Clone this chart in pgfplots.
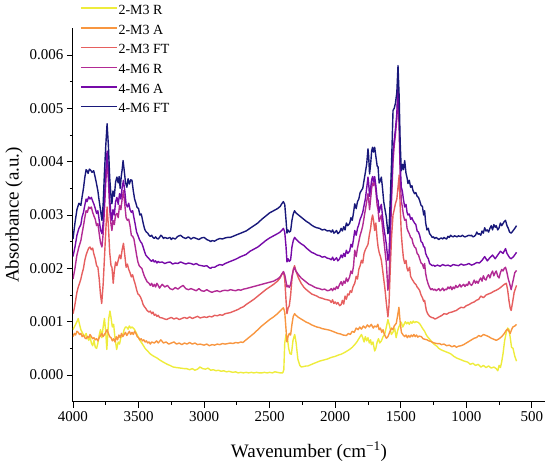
\documentclass[border=0pt]{standalone}
\usepackage{fontspec}
\setmainfont{Liberation Serif}
\usepackage{pgfplots}
\pgfplotsset{compat=1.18}
\definecolor{cR2}{RGB}{238,236,60}
\definecolor{cA2}{RGB}{248,150,64}
\definecolor{cF2}{RGB}{230,95,95}
\definecolor{cR4}{RGB}{178,42,148}
\definecolor{cA4}{RGB}{118,10,168}
\definecolor{cF4}{RGB}{24,24,122}
\pgfplotsset{sp/.style={line width=1.4pt, line join=round}}
\begin{document}
\begin{tikzpicture}
\useasboundingbox (-73pt,-66.3pt) rectangle (477pt,401.7pt);
\begin{axis}[
  at={(0pt,0pt)}, anchor=south west,
  scale only axis, width=472pt, height=373.4pt,
  x dir=reverse,
  xmin=400, xmax=4000, ymin=-0.0005, ymax=0.0065,
  axis x line*=bottom, axis y line*=left,
  axis line style={line width=1pt, black},
  tick align=outside,
  major tick length=6pt, minor tick length=3pt,
  every tick/.style={black, line width=0.9pt},
  xtick={500,1000,...,4000}, minor x tick num=1,
  ytick={0,0.001,0.002,0.003,0.004,0.005,0.006}, minor y tick num=1,
  scaled y ticks=false,
  /pgf/number format/assume math mode=true,
  xticklabel style={/pgf/number format/1000 sep={}},
  yticklabel style={/pgf/number format/.cd, fixed, fixed zerofill, precision=3},
  ticklabel style={font=\fontsize{15}{18}\selectfont},
  xlabel={Wavenumber (cm\textsuperscript{−1})},
  ylabel={Absorbance (a.u.)},
  label style={font=\fontsize{19}{23}\selectfont},
  xlabel style={at={(axis description cs:0.5,-0.134)}, anchor=center},
  ylabel style={at={(axis description cs:-0.125,0.5)}, anchor=center},
  legend style={at={(axis description cs:0.0148,1.066)}, anchor=north west,
    draw=none, fill=none, inner sep=0pt, row sep=5.2pt,
    font=\fontsize{14}{16}\selectfont,
    nodes={inner sep=1pt, text height=9.5pt, text depth=3pt}},
  legend cell align=left,
  legend image code/.code={\draw[#1, line width=1.4pt] (0pt,0.3em) -- (36pt,0.3em);},
]
% 2-M3 R
\addplot[cR2, sp] table {
x y
4000 0.00085
3990 0.00090
3980 0.00095
3970 0.00100
3960 0.00106
3950 0.00095
3940 0.00085
3930 0.00080
3920 0.00075
3910 0.00072
3900 0.00078
3890 0.00070
3880 0.00065
3870 0.00072
3860 0.00060
3850 0.00055
3840 0.00065
3830 0.00052
3820 0.00050
3810 0.00060
3800 0.00075
3790 0.00085
3780 0.00070
3770 0.00090
3760 0.00106
3750 0.00080
3742 0.00048
3735 0.00075
3728 0.00105
3718 0.00120
3710 0.00108
3700 0.00090
3690 0.00095
3680 0.00070
3667 0.00048
3655 0.00062
3645 0.00058
3635 0.00070
3620 0.00075
3610 0.00085
3600 0.00090
3591 0.00090
3580 0.00086
3570 0.00092
3560 0.00088
3550 0.00090
3540 0.00088
3530 0.00085
3520 0.00080
3510 0.00075
3500 0.00070
3489 0.00065
3470 0.00058
3450 0.00050
3430 0.00045
3413 0.00040
3390 0.00036
3360 0.00032
3337 0.00028
3310 0.00024
3280 0.00020
3260 0.00018
3236 0.00015
3210 0.00014
3180 0.00013
3150 0.00012
3134 0.00012
3110 0.00010
3090 0.00012
3070 0.00009
3050 0.00011
3032 0.00015
3010 0.00012
2990 0.00011
2970 0.00013
2950 0.00009
2930 0.00010
2910 0.00008
2890 0.00009
2870 0.00007
2850 0.00008
2830 0.00006
2810 0.00007
2781 0.00005
2760 0.00006
2740 0.00004
2720 0.00005
2700 0.00004
2680 0.00005
2660 0.00004
2640 0.00005
2620 0.00004
2600 0.00005
2580 0.00004
2560 0.00004
2540 0.00005
2520 0.00004
2500 0.00005
2480 0.00004
2460 0.00006
2440 0.00005
2420 0.00004
2400 0.00004
2392 0.00010
2385 0.00060
2375 0.00076
2365 0.00070
2355 0.00050
2345 0.00040
2334 0.00039
2322 0.00065
2309 0.00076
2298 0.00060
2285 0.00030
2270 0.00018
2258 0.00015
2240 0.00016
2220 0.00017
2208 0.00017
2180 0.00020
2150 0.00023
2120 0.00026
2090 0.00028
2060 0.00030
2030 0.00033
2000 0.00035
1970 0.00038
1954 0.00039
1930 0.00042
1910 0.00045
1890 0.00048
1870 0.00052
1851 0.00057
1835 0.00062
1820 0.00068
1810 0.00072
1800 0.00076
1790 0.00070
1780 0.00062
1770 0.00072
1760 0.00064
1750 0.00070
1740 0.00060
1730 0.00066
1724 0.00057
1712 0.00062
1699 0.00045
1690 0.00050
1680 0.00062
1670 0.00068
1660 0.00060
1648 0.00064
1635 0.00072
1623 0.00076
1610 0.00090
1598 0.00104
1585 0.00092
1572 0.00076
1560 0.00080
1547 0.00088
1535 0.00070
1525 0.00082
1515 0.00090
1505 0.00095
1496 0.00099
1485 0.00090
1475 0.00095
1465 0.00100
1455 0.00096
1445 0.00099
1435 0.00095
1425 0.00100
1415 0.00097
1405 0.00101
1395 0.00098
1385 0.00100
1369 0.00099
1355 0.00096
1340 0.00090
1330 0.00086
1318 0.00082
1305 0.00075
1290 0.00070
1275 0.00066
1260 0.00061
1242 0.00057
1225 0.00054
1210 0.00050
1190 0.00047
1170 0.00045
1150 0.00043
1130 0.00041
1115 0.00039
1095 0.00035
1075 0.00032
1055 0.00030
1035 0.00028
1015 0.00026
1000 0.00025
988 0.00024
970 0.00020
950 0.00022
930 0.00018
910 0.00020
888 0.00015
870 0.00018
850 0.00014
830 0.00017
810 0.00013
790 0.00015
772 0.00012
760 0.00008
750 0.00018
740 0.00014
730 0.00025
720 0.00040
708 0.00064
695 0.00080
685 0.00088
675 0.00086
665 0.00070
655 0.00052
644 0.00050
630 0.00035
617 0.00026
};
\addlegendentry{2-M3 R}
% 2-M3 A
\addplot[cA2, sp] table {
x y
4000 0.00072
3990 0.00078
3980 0.00075
3970 0.00082
3960 0.00080
3950 0.00076
3940 0.00078
3930 0.00072
3920 0.00075
3910 0.00070
3900 0.00068
3890 0.00072
3880 0.00070
3870 0.00076
3860 0.00072
3850 0.00068
3840 0.00070
3830 0.00066
3820 0.00068
3810 0.00064
3800 0.00070
3790 0.00074
3780 0.00078
3770 0.00072
3760 0.00076
3750 0.00080
3740 0.00085
3730 0.00078
3720 0.00072
3710 0.00070
3700 0.00064
3690 0.00068
3680 0.00062
3670 0.00072
3660 0.00066
3650 0.00075
3640 0.00070
3630 0.00078
3620 0.00072
3610 0.00076
3600 0.00080
3590 0.00074
3580 0.00078
3570 0.00082
3560 0.00076
3550 0.00080
3540 0.00076
3530 0.00082
3520 0.00078
3510 0.00072
3500 0.00070
3490 0.00066
3480 0.00068
3470 0.00064
3460 0.00066
3450 0.00062
3440 0.00064
3430 0.00060
3420 0.00062
3410 0.00058
3400 0.00062
3380 0.00060
3362 0.00064
3350 0.00060
3330 0.00066
3310 0.00060
3290 0.00062
3270 0.00058
3250 0.00060
3230 0.00062
3210 0.00058
3190 0.00060
3170 0.00057
3150 0.00060
3130 0.00058
3110 0.00061
3090 0.00058
3070 0.00060
3050 0.00057
3030 0.00058
3000 0.00056
2980 0.00058
2960 0.00055
2940 0.00057
2920 0.00056
2900 0.00058
2880 0.00057
2860 0.00059
2840 0.00058
2820 0.00059
2800 0.00060
2780 0.00059
2760 0.00061
2740 0.00060
2720 0.00062
2704 0.00061
2680 0.00066
2650 0.00072
2620 0.00078
2590 0.00085
2560 0.00092
2530 0.00098
2500 0.00104
2470 0.00109
2440 0.00115
2420 0.00120
2405 0.00124
2395 0.00126
2385 0.00118
2375 0.00085
2368 0.00062
2360 0.00072
2350 0.00078
2340 0.00075
2330 0.00095
2320 0.00110
2310 0.00115
2300 0.00112
2280 0.00108
2260 0.00105
2240 0.00102
2220 0.00099
2200 0.00097
2180 0.00094
2160 0.00092
2140 0.00090
2120 0.00089
2100 0.00087
2080 0.00086
2060 0.00085
2042 0.00084
2020 0.00082
2000 0.00080
1980 0.00078
1960 0.00077
1940 0.00075
1915 0.00074
1900 0.00078
1885 0.00076
1870 0.00082
1855 0.00080
1840 0.00088
1825 0.00085
1813 0.00090
1800 0.00086
1785 0.00092
1770 0.00088
1755 0.00094
1740 0.00090
1725 0.00095
1710 0.00088
1700 0.00092
1686 0.00090
1675 0.00095
1665 0.00085
1655 0.00088
1645 0.00080
1635 0.00085
1625 0.00076
1610 0.00069
1598 0.00072
1585 0.00080
1570 0.00088
1560 0.00085
1550 0.00092
1534 0.00097
1525 0.00110
1514 0.00127
1505 0.00100
1495 0.00080
1485 0.00076
1470 0.00072
1460 0.00075
1450 0.00070
1440 0.00074
1430 0.00071
1420 0.00075
1410 0.00072
1400 0.00076
1390 0.00072
1380 0.00075
1370 0.00071
1360 0.00073
1343 0.00072
1330 0.00068
1315 0.00067
1300 0.00066
1285 0.00064
1270 0.00063
1255 0.00061
1242 0.00060
1225 0.00059
1204 0.00059
1190 0.00057
1170 0.00058
1150 0.00055
1130 0.00056
1110 0.00053
1090 0.00055
1076 0.00052
1060 0.00054
1040 0.00055
1020 0.00057
1000 0.00060
980 0.00063
960 0.00066
940 0.00069
924 0.00070
905 0.00074
888 0.00072
870 0.00076
848 0.00074
830 0.00072
810 0.00069
790 0.00067
771 0.00065
750 0.00068
730 0.00072
710 0.00078
695 0.00084
684 0.00086
675 0.00082
665 0.00078
655 0.00085
645 0.00090
630 0.00092
617 0.00095
};
\addlegendentry{2-M3 A}
% 2-M3 FT
\addplot[cF2, sp] table {
x y
4000 0.00115
3990 0.00125
3980 0.00140
3970 0.00155
3960 0.00165
3950 0.00172
3940 0.00180
3931 0.00190
3920 0.00200
3910 0.00215
3900 0.00225
3890 0.00232
3880 0.00238
3870 0.00240
3860 0.00235
3850 0.00238
3842 0.00228
3830 0.00218
3820 0.00205
3810 0.00202
3800 0.00180
3790 0.00150
3781 0.00134
3770 0.00170
3760 0.00220
3750 0.00270
3740 0.00315
3730 0.00280
3720 0.00230
3710 0.00205
3703 0.00202
3693 0.00172
3685 0.00195
3675 0.00212
3665 0.00205
3655 0.00215
3645 0.00225
3635 0.00218
3625 0.00235
3615 0.00247
3605 0.00225
3595 0.00202
3585 0.00208
3575 0.00198
3565 0.00192
3555 0.00184
3545 0.00188
3535 0.00178
3525 0.00170
3515 0.00160
3505 0.00152
3495 0.00150
3485 0.00146
3475 0.00140
3465 0.00132
3455 0.00128
3445 0.00125
3435 0.00121
3420 0.00118
3410 0.00120
3400 0.00115
3390 0.00118
3380 0.00112
3370 0.00114
3360 0.00110
3350 0.00112
3340 0.00108
3320 0.00107
3300 0.00105
3286 0.00104
3270 0.00106
3250 0.00108
3230 0.00105
3210 0.00107
3190 0.00104
3170 0.00106
3150 0.00108
3130 0.00106
3110 0.00109
3090 0.00106
3070 0.00108
3050 0.00110
3030 0.00107
3000 0.00109
2980 0.00108
2960 0.00110
2940 0.00109
2920 0.00112
2900 0.00111
2880 0.00113
2860 0.00112
2840 0.00115
2820 0.00116
2800 0.00117
2780 0.00119
2760 0.00121
2740 0.00123
2720 0.00126
2700 0.00128
2680 0.00132
2650 0.00137
2620 0.00142
2590 0.00148
2560 0.00154
2530 0.00160
2500 0.00165
2470 0.00170
2440 0.00176
2420 0.00182
2405 0.00190
2395 0.00193
2385 0.00180
2375 0.00140
2368 0.00115
2360 0.00125
2350 0.00130
2340 0.00150
2330 0.00180
2320 0.00198
2310 0.00205
2300 0.00195
2280 0.00182
2260 0.00172
2240 0.00165
2220 0.00160
2200 0.00156
2180 0.00152
2160 0.00150
2140 0.00148
2120 0.00145
2100 0.00144
2080 0.00142
2060 0.00141
2042 0.00140
2030 0.00136
2020 0.00141
2010 0.00134
2000 0.00137
1990 0.00133
1980 0.00136
1966 0.00130
1955 0.00132
1945 0.00140
1935 0.00133
1925 0.00148
1915 0.00142
1905 0.00152
1895 0.00150
1885 0.00158
1875 0.00155
1865 0.00165
1851 0.00172
1840 0.00185
1830 0.00180
1820 0.00198
1810 0.00205
1800 0.00215
1790 0.00210
1780 0.00228
1770 0.00235
1760 0.00240
1750 0.00245
1740 0.00262
1730 0.00275
1722 0.00292
1715 0.00300
1708 0.00290
1699 0.00271
1690 0.00285
1680 0.00255
1673 0.00240
1665 0.00230
1655 0.00222
1648 0.00215
1640 0.00200
1630 0.00180
1620 0.00160
1610 0.00135
1598 0.00109
1590 0.00130
1580 0.00200
1570 0.00260
1559 0.00300
1550 0.00310
1541 0.00321
1530 0.00330
1521 0.00352
1512 0.00375
1505 0.00320
1496 0.00265
1488 0.00240
1480 0.00220
1470 0.00209
1460 0.00215
1452 0.00200
1445 0.00195
1433 0.00202
1425 0.00185
1415 0.00180
1407 0.00177
1395 0.00172
1385 0.00170
1375 0.00165
1365 0.00162
1357 0.00159
1345 0.00150
1335 0.00145
1325 0.00138
1318 0.00140
1305 0.00121
1295 0.00115
1280 0.00110
1265 0.00108
1250 0.00107
1240 0.00105
1229 0.00106
1215 0.00108
1200 0.00110
1185 0.00112
1170 0.00115
1150 0.00114
1130 0.00117
1110 0.00118
1090 0.00120
1076 0.00121
1060 0.00124
1040 0.00127
1020 0.00126
1000 0.00130
980 0.00132
960 0.00135
940 0.00137
924 0.00140
905 0.00142
890 0.00148
870 0.00145
850 0.00150
830 0.00152
810 0.00154
790 0.00157
771 0.00159
750 0.00162
730 0.00166
710 0.00170
695 0.00172
685 0.00160
675 0.00140
665 0.00125
658 0.00121
648 0.00135
635 0.00155
617 0.00168
};
\addlegendentry{2-M3 FT}
% 4-M6 R
\addplot[cR4, sp] table {
x y
4000 0.00180
3985 0.00200
3970 0.00225
3955 0.00240
3940 0.00252
3931 0.00265
3920 0.00280
3910 0.00295
3900 0.00308
3890 0.00305
3880 0.00315
3870 0.00312
3860 0.00315
3850 0.00305
3840 0.00298
3830 0.00292
3820 0.00280
3810 0.00284
3800 0.00265
3790 0.00248
3779 0.00240
3770 0.00265
3760 0.00310
3750 0.00360
3740 0.00402
3730 0.00365
3720 0.00310
3710 0.00282
3703 0.00271
3695 0.00290
3685 0.00282
3675 0.00300
3665 0.00303
3655 0.00295
3645 0.00318
3635 0.00310
3625 0.00330
3615 0.00346
3605 0.00320
3595 0.00295
3585 0.00290
3575 0.00292
3565 0.00280
3555 0.00262
3545 0.00260
3535 0.00255
3525 0.00240
3515 0.00225
3505 0.00212
3495 0.00205
3485 0.00202
3475 0.00200
3465 0.00192
3455 0.00185
3445 0.00180
3435 0.00175
3420 0.00172
3410 0.00168
3400 0.00172
3390 0.00166
3380 0.00170
3370 0.00165
3360 0.00172
3350 0.00168
3340 0.00163
3320 0.00170
3300 0.00165
3280 0.00168
3260 0.00162
3240 0.00160
3220 0.00164
3200 0.00161
3180 0.00165
3160 0.00168
3140 0.00162
3120 0.00160
3100 0.00162
3080 0.00160
3060 0.00158
3040 0.00162
3020 0.00158
3000 0.00157
2980 0.00160
2960 0.00157
2940 0.00155
2920 0.00157
2900 0.00158
2880 0.00156
2860 0.00158
2840 0.00159
2820 0.00158
2800 0.00160
2780 0.00159
2760 0.00158
2740 0.00160
2720 0.00159
2700 0.00161
2680 0.00162
2650 0.00164
2620 0.00166
2590 0.00168
2560 0.00170
2530 0.00172
2500 0.00174
2470 0.00176
2440 0.00180
2420 0.00184
2405 0.00190
2395 0.00194
2385 0.00188
2375 0.00175
2368 0.00165
2360 0.00168
2350 0.00164
2340 0.00170
2330 0.00185
2320 0.00196
2310 0.00202
2300 0.00195
2280 0.00188
2260 0.00182
2240 0.00178
2220 0.00174
2200 0.00170
2180 0.00168
2160 0.00165
2140 0.00163
2120 0.00162
2100 0.00160
2080 0.00161
2060 0.00158
2042 0.00159
2030 0.00162
2020 0.00158
2010 0.00163
2000 0.00160
1990 0.00166
1980 0.00162
1966 0.00170
1955 0.00175
1945 0.00168
1935 0.00176
1925 0.00172
1915 0.00182
1905 0.00175
1890 0.00184
1880 0.00195
1870 0.00190
1860 0.00205
1851 0.00234
1840 0.00222
1830 0.00238
1820 0.00250
1810 0.00262
1800 0.00270
1790 0.00280
1780 0.00295
1770 0.00310
1760 0.00325
1750 0.00340
1745 0.00330
1738 0.00310
1730 0.00330
1722 0.00350
1715 0.00360
1708 0.00355
1699 0.00365
1690 0.00345
1680 0.00318
1673 0.00310
1665 0.00288
1655 0.00295
1648 0.00300
1640 0.00278
1630 0.00255
1620 0.00232
1610 0.00210
1598 0.00159
1590 0.00175
1580 0.00250
1570 0.00330
1559 0.00400
1550 0.00430
1541 0.00450
1530 0.00480
1521 0.00533
1512 0.00460
1505 0.00380
1496 0.00327
1488 0.00315
1480 0.00300
1470 0.00290
1460 0.00292
1452 0.00275
1445 0.00270
1435 0.00265
1425 0.00258
1415 0.00256
1407 0.00247
1395 0.00240
1385 0.00238
1375 0.00228
1365 0.00225
1356 0.00218
1345 0.00210
1335 0.00208
1325 0.00200
1318 0.00209
1310 0.00190
1300 0.00178
1290 0.00170
1280 0.00164
1270 0.00160
1260 0.00162
1250 0.00159
1240 0.00161
1230 0.00158
1220 0.00160
1210 0.00162
1200 0.00158
1190 0.00160
1180 0.00163
1170 0.00158
1160 0.00161
1150 0.00160
1140 0.00165
1130 0.00162
1120 0.00166
1110 0.00160
1100 0.00165
1090 0.00162
1080 0.00168
1070 0.00164
1060 0.00166
1050 0.00170
1040 0.00165
1030 0.00168
1020 0.00170
1010 0.00166
1000 0.00170
990 0.00168
980 0.00175
970 0.00170
960 0.00168
950 0.00172
940 0.00178
930 0.00172
920 0.00176
910 0.00172
900 0.00178
890 0.00182
880 0.00176
870 0.00186
860 0.00180
850 0.00178
840 0.00185
830 0.00188
820 0.00182
810 0.00190
800 0.00195
790 0.00186
780 0.00192
772 0.00195
760 0.00185
750 0.00182
740 0.00192
730 0.00198
720 0.00195
710 0.00200
701 0.00202
690 0.00192
680 0.00180
670 0.00172
658 0.00160
645 0.00175
630 0.00192
617 0.00196
};
\addlegendentry{4-M6 R}
% 4-M6 A
\addplot[cA4, sp] table {
x y
4000 0.00222
3985 0.00240
3970 0.00262
3955 0.00275
3940 0.00282
3931 0.00296
3920 0.00305
3910 0.00318
3900 0.00330
3893 0.00325
3880 0.00334
3870 0.00330
3860 0.00333
3850 0.00326
3840 0.00320
3830 0.00312
3820 0.00303
3810 0.00308
3800 0.00290
3790 0.00272
3779 0.00265
3770 0.00285
3760 0.00330
3750 0.00380
3740 0.00420
3730 0.00385
3720 0.00330
3710 0.00300
3703 0.00290
3695 0.00310
3685 0.00300
3675 0.00325
3665 0.00333
3655 0.00320
3645 0.00340
3635 0.00330
3625 0.00352
3615 0.00365
3605 0.00345
3595 0.00320
3585 0.00315
3575 0.00322
3565 0.00310
3555 0.00305
3545 0.00308
3535 0.00295
3525 0.00282
3515 0.00268
3505 0.00262
3495 0.00255
3485 0.00250
3475 0.00247
3465 0.00240
3455 0.00232
3445 0.00225
3435 0.00222
3420 0.00218
3410 0.00215
3400 0.00213
3390 0.00216
3380 0.00212
3370 0.00214
3360 0.00210
3350 0.00213
3340 0.00211
3320 0.00212
3300 0.00209
3280 0.00211
3260 0.00212
3240 0.00208
3220 0.00210
3200 0.00209
3180 0.00212
3160 0.00210
3140 0.00208
3120 0.00210
3100 0.00209
3080 0.00207
3060 0.00209
3040 0.00206
3020 0.00205
3000 0.00204
2980 0.00205
2960 0.00201
2950 0.00200
2940 0.00202
2920 0.00202
2900 0.00205
2880 0.00207
2860 0.00206
2840 0.00209
2820 0.00211
2800 0.00213
2760 0.00217
2720 0.00222
2680 0.00226
2650 0.00232
2620 0.00236
2590 0.00240
2560 0.00246
2530 0.00252
2500 0.00257
2470 0.00261
2440 0.00265
2420 0.00268
2405 0.00272
2395 0.00275
2385 0.00268
2375 0.00240
2368 0.00212
2360 0.00218
2350 0.00213
2340 0.00216
2330 0.00240
2320 0.00252
2310 0.00258
2300 0.00255
2280 0.00250
2260 0.00246
2240 0.00243
2220 0.00238
2200 0.00234
2180 0.00230
2160 0.00228
2140 0.00225
2120 0.00224
2100 0.00221
2080 0.00222
2060 0.00219
2042 0.00218
2030 0.00216
2020 0.00221
2010 0.00215
2000 0.00217
1990 0.00220
1980 0.00214
1966 0.00218
1955 0.00225
1945 0.00220
1935 0.00228
1925 0.00222
1915 0.00234
1905 0.00228
1890 0.00232
1880 0.00245
1870 0.00240
1860 0.00255
1851 0.00271
1840 0.00262
1830 0.00275
1820 0.00282
1810 0.00292
1800 0.00298
1790 0.00305
1780 0.00318
1770 0.00330
1760 0.00350
1750 0.00371
1745 0.00360
1738 0.00335
1730 0.00350
1722 0.00366
1715 0.00372
1708 0.00362
1699 0.00372
1690 0.00355
1680 0.00330
1673 0.00327
1665 0.00305
1655 0.00315
1648 0.00320
1640 0.00300
1630 0.00278
1620 0.00262
1610 0.00245
1598 0.00215
1590 0.00225
1580 0.00285
1570 0.00350
1559 0.00420
1550 0.00440
1541 0.00460
1530 0.00490
1521 0.00546
1512 0.00480
1505 0.00400
1496 0.00352
1488 0.00345
1480 0.00330
1470 0.00315
1460 0.00320
1452 0.00305
1445 0.00300
1435 0.00302
1425 0.00292
1415 0.00295
1407 0.00290
1395 0.00285
1385 0.00282
1375 0.00270
1365 0.00268
1356 0.00262
1345 0.00250
1335 0.00248
1325 0.00240
1318 0.00240
1310 0.00228
1300 0.00222
1290 0.00218
1280 0.00209
1270 0.00207
1260 0.00205
1250 0.00206
1240 0.00204
1220 0.00206
1200 0.00204
1180 0.00207
1160 0.00205
1140 0.00206
1120 0.00204
1100 0.00207
1080 0.00206
1060 0.00205
1040 0.00208
1020 0.00206
1000 0.00207
980 0.00209
960 0.00206
940 0.00208
920 0.00211
900 0.00210
880 0.00215
860 0.00222
840 0.00214
820 0.00220
800 0.00225
780 0.00218
760 0.00225
740 0.00232
720 0.00228
701 0.00237
690 0.00228
670 0.00220
658 0.00218
640 0.00222
617 0.00230
};
\addlegendentry{4-M6 A}
% 4-M6 FT
\addplot[cF4, sp] table {
x y
4000 0.00255
3985 0.00285
3970 0.00310
3955 0.00322
3940 0.00318
3930 0.00335
3920 0.00350
3910 0.00370
3900 0.00385
3893 0.00383
3885 0.00378
3875 0.00386
3865 0.00384
3855 0.00380
3842 0.00383
3830 0.00370
3820 0.00358
3810 0.00345
3804 0.00333
3795 0.00318
3785 0.00300
3779 0.00290
3770 0.00320
3760 0.00380
3750 0.00430
3740 0.00471
3730 0.00430
3720 0.00370
3710 0.00335
3703 0.00321
3695 0.00345
3685 0.00335
3675 0.00362
3665 0.00371
3655 0.00360
3648 0.00372
3640 0.00350
3632 0.00372
3625 0.00385
3618 0.00402
3610 0.00385
3600 0.00362
3589 0.00352
3580 0.00368
3570 0.00358
3560 0.00366
3550 0.00365
3540 0.00345
3530 0.00330
3520 0.00322
3512 0.00315
3500 0.00312
3490 0.00300
3480 0.00302
3474 0.00296
3465 0.00285
3455 0.00275
3449 0.00271
3440 0.00268
3430 0.00266
3420 0.00262
3410 0.00260
3400 0.00262
3390 0.00258
3380 0.00256
3370 0.00259
3360 0.00256
3350 0.00255
3340 0.00258
3330 0.00262
3320 0.00260
3310 0.00256
3300 0.00258
3280 0.00256
3260 0.00258
3250 0.00254
3240 0.00257
3220 0.00255
3200 0.00260
3180 0.00262
3160 0.00258
3140 0.00256
3120 0.00259
3100 0.00255
3080 0.00258
3060 0.00256
3040 0.00254
3020 0.00257
3000 0.00258
2980 0.00254
2960 0.00252
2950 0.00250
2940 0.00252
2920 0.00251
2900 0.00254
2880 0.00256
2860 0.00255
2840 0.00257
2820 0.00258
2800 0.00258
2760 0.00262
2720 0.00266
2680 0.00270
2650 0.00275
2620 0.00280
2590 0.00285
2560 0.00292
2530 0.00298
2500 0.00304
2470 0.00308
2440 0.00312
2420 0.00316
2405 0.00322
2395 0.00325
2385 0.00320
2375 0.00290
2368 0.00266
2360 0.00272
2350 0.00268
2340 0.00270
2330 0.00290
2320 0.00302
2310 0.00308
2300 0.00304
2280 0.00300
2260 0.00296
2240 0.00292
2220 0.00288
2200 0.00285
2180 0.00281
2160 0.00278
2140 0.00276
2120 0.00275
2100 0.00272
2080 0.00273
2060 0.00270
2042 0.00271
2030 0.00268
2020 0.00272
2010 0.00266
2000 0.00268
1990 0.00271
1980 0.00265
1966 0.00268
1955 0.00275
1945 0.00270
1935 0.00278
1925 0.00272
1915 0.00285
1905 0.00280
1890 0.00284
1880 0.00295
1870 0.00290
1860 0.00305
1851 0.00321
1840 0.00312
1830 0.00325
1820 0.00330
1810 0.00342
1800 0.00346
1790 0.00350
1780 0.00365
1770 0.00380
1760 0.00395
1750 0.00424
1745 0.00410
1738 0.00377
1730 0.00395
1722 0.00420
1715 0.00427
1708 0.00418
1699 0.00427
1690 0.00410
1680 0.00392
1673 0.00390
1665 0.00360
1655 0.00365
1648 0.00371
1640 0.00352
1630 0.00325
1620 0.00310
1610 0.00296
1598 0.00265
1590 0.00270
1580 0.00330
1570 0.00400
1559 0.00496
1550 0.00500
1541 0.00509
1530 0.00530
1521 0.00580
1512 0.00520
1505 0.00440
1496 0.00383
1488 0.00395
1480 0.00385
1470 0.00402
1460 0.00378
1452 0.00370
1445 0.00359
1435 0.00365
1425 0.00352
1415 0.00355
1407 0.00346
1395 0.00340
1385 0.00342
1375 0.00335
1365 0.00333
1356 0.00327
1345 0.00318
1335 0.00316
1325 0.00300
1318 0.00308
1310 0.00285
1300 0.00272
1290 0.00275
1280 0.00265
1270 0.00262
1260 0.00258
1250 0.00259
1242 0.00256
1230 0.00258
1220 0.00256
1210 0.00254
1200 0.00256
1190 0.00257
1180 0.00255
1170 0.00258
1160 0.00256
1150 0.00255
1140 0.00260
1130 0.00258
1120 0.00262
1110 0.00260
1100 0.00259
1090 0.00261
1080 0.00260
1070 0.00259
1060 0.00261
1050 0.00260
1040 0.00260
1030 0.00262
1020 0.00260
1010 0.00259
1000 0.00260
990 0.00261
980 0.00262
970 0.00261
960 0.00262
950 0.00259
940 0.00260
930 0.00262
920 0.00268
910 0.00264
900 0.00265
890 0.00262
880 0.00270
870 0.00266
860 0.00276
850 0.00270
840 0.00272
830 0.00268
820 0.00275
810 0.00280
800 0.00272
790 0.00282
780 0.00277
772 0.00280
760 0.00272
750 0.00276
740 0.00285
730 0.00280
720 0.00284
710 0.00288
701 0.00290
690 0.00280
680 0.00275
670 0.00268
658 0.00266
645 0.00270
630 0.00275
617 0.00280
};
\addlegendentry{4-M6 FT}
\end{axis}
\end{tikzpicture}
\end{document}
